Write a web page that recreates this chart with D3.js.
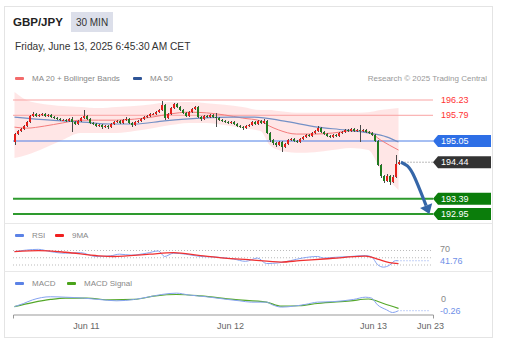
<!DOCTYPE html>
<html>
<head>
<meta charset="utf-8">
<script src="https://cdn.jsdelivr.net/npm/d3@7"></script>
<style>
body{margin:0;background:#fff;}
svg{display:block;font-family:"Liberation Sans",Arial,sans-serif;}
</style>
</head>
<body>
<svg id="myGraph" width="510" height="352"></svg>
<script>
// 30 min candles, GBP/JPY, bar 0 = Jun 10 12:00
var barOpen = [195.02,195.25,195.34,195.40,195.48,195.60,195.77,195.83,195.77,195.80,
	195.83,195.77,195.80,195.74,195.71,195.68,195.65,195.65,195.63,195.68,
	195.60,195.54,195.63,195.71,195.77,195.68,195.57,195.54,195.48,195.51,
	195.45,195.48,195.45,195.54,195.60,195.63,195.57,195.65,195.68,195.57,
	195.51,195.60,195.63,195.68,195.74,195.77,195.83,195.83,195.88,195.94,
	196.09,195.71,195.83,196.00,196.11,196.03,195.94,195.86,195.77,195.88,
	195.97,196.03,195.74,195.68,195.77,195.74,195.80,195.74,195.71,195.65,
	195.63,195.60,195.57,195.60,195.54,195.48,195.45,195.42,195.48,195.51,
	195.60,195.54,195.63,195.57,195.63,195.28,195.08,194.99,194.94,195.02,
	194.88,194.96,195.08,195.11,195.05,195.02,195.11,195.17,195.22,195.19,
	195.28,195.34,195.42,195.31,195.25,195.19,195.17,195.22,195.19,195.28,
	195.31,195.37,195.34,195.40,195.34,195.37,195.34,195.37,195.31,195.28,
	195.22,195.05,194.36,194.04,193.90,194.04,193.87,194.01,194.39];
var barClose = [195.25,195.34,195.40,195.48,195.60,195.77,195.83,195.77,195.80,195.83,
	195.77,195.80,195.74,195.71,195.68,195.65,195.65,195.63,195.68,195.60,
	195.54,195.63,195.71,195.77,195.68,195.57,195.54,195.48,195.51,195.45,
	195.48,195.45,195.54,195.60,195.63,195.57,195.65,195.68,195.57,195.51,
	195.60,195.63,195.68,195.74,195.77,195.83,195.83,195.88,195.94,196.09,
	195.71,195.83,196.00,196.11,196.03,195.94,195.86,195.77,195.88,195.97,
	196.03,195.74,195.68,195.77,195.74,195.80,195.74,195.71,195.65,195.63,
	195.60,195.57,195.60,195.54,195.48,195.45,195.42,195.48,195.51,195.60,
	195.54,195.63,195.57,195.63,195.28,195.08,194.99,194.94,195.02,194.88,
	194.96,195.08,195.11,195.05,195.02,195.11,195.17,195.22,195.19,195.28,
	195.34,195.42,195.31,195.25,195.19,195.17,195.22,195.19,195.28,195.31,
	195.37,195.34,195.40,195.34,195.37,195.34,195.37,195.31,195.28,195.22,
	195.05,194.36,194.04,193.90,194.04,193.87,194.01,194.39,194.44];
var barHigh = [195.28,195.37,195.43,195.51,195.63,195.80,195.88,195.86,195.83,195.86,
	195.86,195.83,195.83,195.77,195.74,195.71,195.68,195.68,195.71,195.74,
	195.63,195.66,195.74,195.94,195.80,195.71,195.60,195.57,195.54,195.54,
	195.51,195.51,195.57,195.63,195.66,195.66,195.68,195.74,195.71,195.60,
	195.63,195.66,195.71,195.77,195.80,195.86,195.86,195.91,195.97,196.20,
	196.12,195.86,196.03,196.14,196.14,196.06,195.97,195.89,195.91,196.00,
	196.06,196.06,195.77,195.80,195.80,195.83,195.83,195.86,195.74,195.68,
	195.66,195.63,195.63,195.63,195.57,195.51,195.48,195.51,195.54,195.63,
	195.63,195.66,195.66,195.68,195.66,195.31,195.11,195.02,195.05,195.05,
	194.99,195.11,195.14,195.14,195.08,195.14,195.20,195.25,195.25,195.31,
	195.37,195.48,195.45,195.34,195.28,195.22,195.25,195.25,195.31,195.34,
	195.40,195.40,195.43,195.43,195.40,195.51,195.40,195.40,195.34,195.31,
	195.25,195.08,194.39,194.07,194.10,194.07,194.07,194.65,194.50];
var barLow = [194.94,195.22,195.31,195.37,195.45,195.57,195.74,195.74,195.74,195.77,
	195.74,195.74,195.71,195.68,195.65,195.62,195.62,195.60,195.60,195.31,
	195.51,195.51,195.60,195.68,195.65,195.54,195.51,195.45,195.45,195.40,
	195.42,195.39,195.42,195.51,195.57,195.54,195.54,195.62,195.54,195.45,
	195.48,195.57,195.60,195.65,195.71,195.74,195.80,195.80,195.85,195.91,
	195.65,195.68,195.80,195.97,196.00,195.91,195.83,195.74,195.74,195.85,
	195.94,195.71,195.62,195.65,195.71,195.71,195.71,195.45,195.62,195.60,
	195.57,195.54,195.54,195.51,195.45,195.42,195.37,195.39,195.45,195.48,
	195.51,195.51,195.54,195.54,195.25,195.02,194.93,194.88,194.91,194.73,
	194.85,194.93,195.05,195.02,194.99,194.99,195.08,195.14,195.16,195.16,
	195.25,195.31,195.28,195.22,195.16,195.14,195.14,195.16,195.16,195.25,
	195.28,195.31,195.31,195.31,195.31,195.02,195.31,195.28,195.25,195.19,
	195.02,194.33,193.98,193.84,193.87,193.79,193.84,193.98,194.36];

// MA 20 + Bollinger Bands, MA 50 (read at a few bars)
var bandIdx = [0,4,10,16,22,28,34,40,46,52,58,64,70,76,82,85,88,94,100,106,112,118,122,128];
var bbUpper = [196.46,196.23,196.11,196.06,196.03,196.00,196.03,196.06,196.11,196.17,196.17,196.14,196.09,196.03,195.94,195.94,195.91,195.86,195.86,195.86,195.86,195.88,195.94,196.00];
var ma20 = [195.45,195.42,195.48,195.57,195.65,195.65,195.65,195.68,195.74,195.83,195.88,195.86,195.80,195.71,195.63,195.48,195.37,195.25,195.25,195.28,195.34,195.31,195.08,194.79];
var bbLower = [194.56,194.65,194.85,195.08,195.28,195.28,195.28,195.34,195.42,195.51,195.57,195.57,195.51,195.42,195.34,194.94,194.79,194.71,194.73,194.79,194.85,194.79,194.22,193.64];
var ma50Idx = [0,12,22,32,40,50,62,72,80,90,101,110,118,124,128];
var ma50 = [195.74,195.65,195.60,195.54,195.54,195.63,195.71,195.74,195.74,195.62,195.45,195.37,195.28,195.17,195.02];

// key levels
var resistLevels = [196.23,195.79];
var pivotLevel = 195.05;
var lastPrice = 194.44;
var supportLevels = [193.39,192.95];
var arrowIdx = [129.3,131.5,133.5,138.8];
var arrowPrice = [194.44,194.36,194.12,192.95];

// RSI and its 9 MA
var rsiIdx = [0,4,8,12,17,22,27,32,35,39,44,48,50,53,57,62,67,73,77,81,84,88,92,96,101,103,107,112,117,119,121,123,125,127,128];
var rsi = [66.8,71.3,73.2,66.8,62.5,64.1,53.5,55.3,59.9,57.2,62.5,68.7,53.5,62.5,59.9,53.5,51.9,46.5,40.1,49.2,34.0,35.9,42.0,49.2,53.5,49.2,51.3,53.5,56.1,52.7,31.3,24.1,29.5,42.0,41.76];
var rsiMaIdx = [0,8,17,28,33,45,53,62,70,78,89,95,103,110,117,121,125,128];
var rsiMa = [66.8,69.5,65.2,55.3,53.5,59.9,64.1,56.1,49.2,44.7,38.0,42.0,46.5,51.3,54.5,46.5,36.7,34.0];
var rsiLevels = [70,50,30];

// MACD and signal
var macdIdx = [0,3,6,12,17,23,28,34,40,45,49,54,58,64,71,75,79,84,86,89,93,97,101,106,113,117,119,121,124,126,128];
var macd = [-0.17,-0.10,-0.02,0.05,0.04,0.02,-0.01,-0.04,-0.01,0.05,0.10,0.13,0.09,0.05,-0.01,-0.04,-0.07,-0.07,-0.13,-0.18,-0.16,-0.12,-0.07,-0.06,-0.01,0.04,0.02,-0.13,-0.24,-0.30,-0.26];
var signalIdx = [0,6,12,17,24,32,40,47,54,62,73,84,89,95,101,112,118,123,128];
var signal = [-0.17,-0.08,-0.01,0.02,0.02,-0.02,-0.01,0.07,0.10,0.07,-0.01,-0.07,-0.16,-0.15,-0.10,-0.04,0.00,-0.10,-0.21];

// time axis
var tickPos = [24.3,72.3,120,139];
var tickLabels = ["Jun 11","Jun 12","Jun 13","Jun 23"];

window.addEventListener("load",function(){

	var svg = d3.select("#myGraph");
	var font = '"Liberation Sans", Arial, sans-serif';

	var x = d3.scaleLinear().domain([0,140]).range([13,433]);
	var yP = d3.scaleLinear().domain([192.95,196.23]).range([214,100]);
	var yR = d3.scaleLinear().domain([30,70]).range([265,250.5]);
	var yM = d3.scaleLinear().domain([-0.26,0]).range([310.7,299]);
	function cx(i){ return x(i+0.5); }
	var right = x(140);

	// card + panel separators
	svg.append("rect").attr("x",4.5).attr("y",6.5).attr("width",488).attr("height",331)
		.attr("fill","#fff").attr("stroke","#e4e4e4");
	[223.5,271.5].forEach(function(y){
		svg.append("line").attr("x1",4.5).attr("x2",492.5).attr("y1",y).attr("y2",y)
			.attr("stroke","#e8e8e8");
	});

	// header
	svg.append("text").attr("x",13).attr("y",26).text("GBP/JPY")
		.attr("font-size",11.5).attr("font-weight","bold").attr("fill","#222");
	svg.append("rect").attr("x",71).attr("y",12).attr("width",42).attr("height",20).attr("fill","#dcdfea");
	svg.append("text").attr("x",92).attr("y",25.5).attr("text-anchor","middle").text("30 MIN")
		.attr("font-size",10).attr("fill","#333");
	svg.append("text").attr("x",15).attr("y",49.5).text("Friday, June 13, 2025 6:45:30 AM CET")
		.attr("font-size",10.2).attr("fill","#333");

	function legend(items,y){
		items.forEach(function(it){
			svg.append("rect").attr("x",it[0]).attr("y",y-4).attr("width",9).attr("height",3)
				.attr("rx",1).attr("fill",it[2]);
			svg.append("text").attr("x",it[0]+17).attr("y",y).text(it[1])
				.attr("font-size",8).attr("fill","#888");
		});
	}
	legend([[15,"MA 20 + Bollinger Bands","#f36b6b"],[133,"MA 50","#2f5597"]],81);
	svg.append("text").attr("x",487).attr("y",81).attr("text-anchor","end")
		.text("Research \u00a9 2025 Trading Central").attr("font-size",8).attr("fill","#999");

	// bollinger band + moving averages
	var bandData = bandIdx.map(function(d,k){ return {i:d,hi:bbUpper[k],lo:bbLower[k],ma:ma20[k]}; });
	svg.append("path").datum(bandData)
		.attr("d",d3.area().x(function(d){return cx(d.i);}).y0(function(d){return yP(d.lo);})
			.y1(function(d){return yP(d.hi);}).curve(d3.curveMonotoneX))
		.attr("fill","#ff8c8c").attr("fill-opacity",0.22);

	// horizontal levels
	function hline(v,color,w){
		svg.append("line").attr("x1",x(0)).attr("x2",right).attr("y1",yP(v)).attr("y2",yP(v))
			.attr("stroke",color).attr("stroke-width",w);
	}
	resistLevels.forEach(function(v){ hline(v,"#f9a3a3",1); });
	hline(pivotLevel,"#4d7fe6",1);
	supportLevels.forEach(function(v){ hline(v,"#2e9a2e",2); });

	svg.append("path").datum(bandData)
		.attr("d",d3.line().x(function(d){return cx(d.i);}).y(function(d){return yP(d.ma);}).curve(d3.curveMonotoneX))
		.attr("fill","none").attr("stroke","#f47c7c").attr("stroke-width",1);
	svg.append("path").datum(ma50Idx.map(function(d,k){ return [d,ma50[k]]; }))
		.attr("d",d3.line().x(function(d){return cx(d[0]);}).y(function(d){return yP(d[1]);}).curve(d3.curveMonotoneX))
		.attr("fill","none").attr("stroke","#7390c6").attr("stroke-width",1.2);

	// candles
	var candles = svg.append("g").attr("shape-rendering","crispEdges")
		.selectAll("g").data(barClose).enter().append("g");
	candles.append("line")
		.attr("x1",function(d,i){return Math.floor(cx(i))+1;})
		.attr("x2",function(d,i){return Math.floor(cx(i))+1;})
		.attr("y1",function(d,i){return yP(barHigh[i]);})
		.attr("y2",function(d,i){return yP(barLow[i]);})
		.attr("stroke","#4a4a4a");
	candles.append("rect")
		.attr("x",function(d,i){return Math.floor(cx(i));})
		.attr("width",2)
		.attr("y",function(d,i){return yP(Math.max(d,barOpen[i]));})
		.attr("height",function(d,i){return Math.max(1,Math.abs(yP(d)-yP(barOpen[i])));})
		.attr("fill",function(d,i){return d>=barOpen[i] ? "#e3201b" : "#1f7a1f";});

	// price labels on the right
	[196.23,195.79].forEach(function(v){
		svg.append("text").attr("x",441).attr("y",yP(v)).attr("dy","0.35em").text(v.toFixed(2))
			.attr("font-size",9).attr("fill","#ff3333");
	});
	function badge(v,color){
		var yc = yP(v);
		svg.append("path")
			.attr("d","M"+right+","+yc+"L"+(right+5)+","+(yc-6)+"H491V"+(yc+6)+"H"+(right+5)+"Z")
			.attr("fill",color);
		svg.append("text").attr("x",right+8).attr("y",yc).attr("dy","0.35em").text(v.toFixed(2))
			.attr("font-size",9).attr("fill","#fff");
	}
	svg.append("line").attr("x1",cx(128)+3).attr("x2",right).attr("y1",yP(lastPrice)).attr("y2",yP(lastPrice))
		.attr("stroke","#777").attr("stroke-dasharray","1,2");
	badge(pivotLevel,"#2e6fe6");
	badge(lastPrice,"#333");
	supportLevels.forEach(function(v){ badge(v,"#0b7d0b"); });

	// projection arrow
	var pts = arrowIdx.map(function(d,k){ return [x(d),yP(arrowPrice[k])]; });
	var tip = pts[pts.length-1], prev = pts[pts.length-2];
	var dx = tip[0]-prev[0], dy = tip[1]-prev[1], len = Math.sqrt(dx*dx+dy*dy);
	dx/=len; dy/=len;
	var base = [tip[0]-dx*9,tip[1]-dy*9];
	var shaft = pts.slice(0,-1).concat([base]);
	svg.append("path").attr("d",d3.line().curve(d3.curveBasis)(shaft))
		.attr("fill","none").attr("stroke","#3566a8").attr("stroke-width",3.2);
	svg.append("path")
		.attr("d","M"+tip[0]+","+tip[1]+"L"+(base[0]-dy*6.5)+","+(base[1]+dx*6.5)
			+"L"+(base[0]+dy*6.5)+","+(base[1]-dx*6.5)+"Z")
		.attr("fill","#3566a8");

	// RSI panel
	legend([[15,"RSI","#5b82e6"],[55,"9MA","#f02020"]],238);
	svg.append("clipPath").attr("id","rsiClip").append("rect")
		.attr("x",0).attr("y",240).attr("width",510).attr("height",28.5);
	var rsiG = svg.append("g").attr("clip-path","url(#rsiClip)");
	rsiLevels.forEach(function(v){
		rsiG.append("line").attr("x1",x(0)).attr("x2",right).attr("y1",yR(v)).attr("y2",yR(v))
			.attr("stroke","#bbb").attr("stroke-dasharray","1,2");
	});
	rsiG.append("path").datum(rsiIdx.map(function(d,k){ return [d,rsi[k]]; }))
		.attr("d",d3.line().x(function(d){return cx(d[0]);}).y(function(d){return yR(d[1]);}).curve(d3.curveMonotoneX))
		.attr("fill","none").attr("stroke","#86a3f0").attr("stroke-width",1);
	rsiG.append("path").datum(rsiMaIdx.map(function(d,k){ return [d,rsiMa[k]]; }))
		.attr("d",d3.line().x(function(d){return cx(d[0]);}).y(function(d){return yR(d[1]);}).curve(d3.curveMonotoneX))
		.attr("fill","none").attr("stroke","#f03030").attr("stroke-width",1.3);
	var rsiLast = rsi[rsi.length-1];
	rsiG.append("line").attr("x1",cx(128)+2).attr("x2",x(139)).attr("y1",yR(rsiLast)).attr("y2",yR(rsiLast))
		.attr("stroke","#86a3f0").attr("stroke-dasharray","1,2");
	rsiG.append("text").attr("x",440).attr("y",yR(70)-1.5).attr("dy","0.35em").text("70")
		.attr("font-size",9).attr("fill","#888");
	rsiG.append("text").attr("x",440).attr("y",yR(rsiLast)).attr("dy","0.35em").text(rsiLast.toFixed(2))
		.attr("font-size",9).attr("fill","#6f8fe8");
	rsiG.append("text").attr("x",440).attr("y",yR(30)+7).attr("dy","0.35em").text("30")
		.attr("font-size",9).attr("fill","#888");

	// MACD panel
	legend([[15,"MACD","#5b82e6"],[67,"MACD Signal","#4aa31a"]],286);
	svg.append("path").datum(signalIdx.map(function(d,k){ return [d,signal[k]]; }))
		.attr("d",d3.line().x(function(d){return cx(d[0]);}).y(function(d){return yM(d[1]);}).curve(d3.curveMonotoneX))
		.attr("fill","none").attr("stroke","#55a82a").attr("stroke-width",1.2);
	svg.append("path").datum(macdIdx.map(function(d,k){ return [d,macd[k]]; }))
		.attr("d",d3.line().x(function(d){return cx(d[0]);}).y(function(d){return yM(d[1]);}).curve(d3.curveMonotoneX))
		.attr("fill","none").attr("stroke","#86a3f0").attr("stroke-width",1);
	var macdLast = macd[macd.length-1];
	svg.append("line").attr("x1",cx(128)+2).attr("x2",x(139)).attr("y1",yM(macdLast)).attr("y2",yM(macdLast))
		.attr("stroke","#86a3f0").attr("stroke-dasharray","1,2");
	svg.append("text").attr("x",441).attr("y",yM(0)).attr("dy","0.35em").text("0")
		.attr("font-size",9).attr("fill","#888");
	svg.append("text").attr("x",440).attr("y",yM(macdLast)).attr("dy","0.35em").text(macdLast.toFixed(2))
		.attr("font-size",9).attr("fill","#6f8fe8");

	// time axis
	var xAxis = d3.axisBottom(x).tickValues(tickPos)
		.tickFormat(function(d,k){ return tickLabels[k]; })
		.tickSizeInner(0).tickSizeOuter(4).tickPadding(8);
	var axisG = svg.append("g").attr("transform","translate(0,314.5)").call(xAxis);
	axisG.select(".domain").attr("stroke","#999");
	axisG.selectAll("text").attr("font-size",9).attr("font-family",font).attr("fill","#666");

})
</script>
</body>
</html>
